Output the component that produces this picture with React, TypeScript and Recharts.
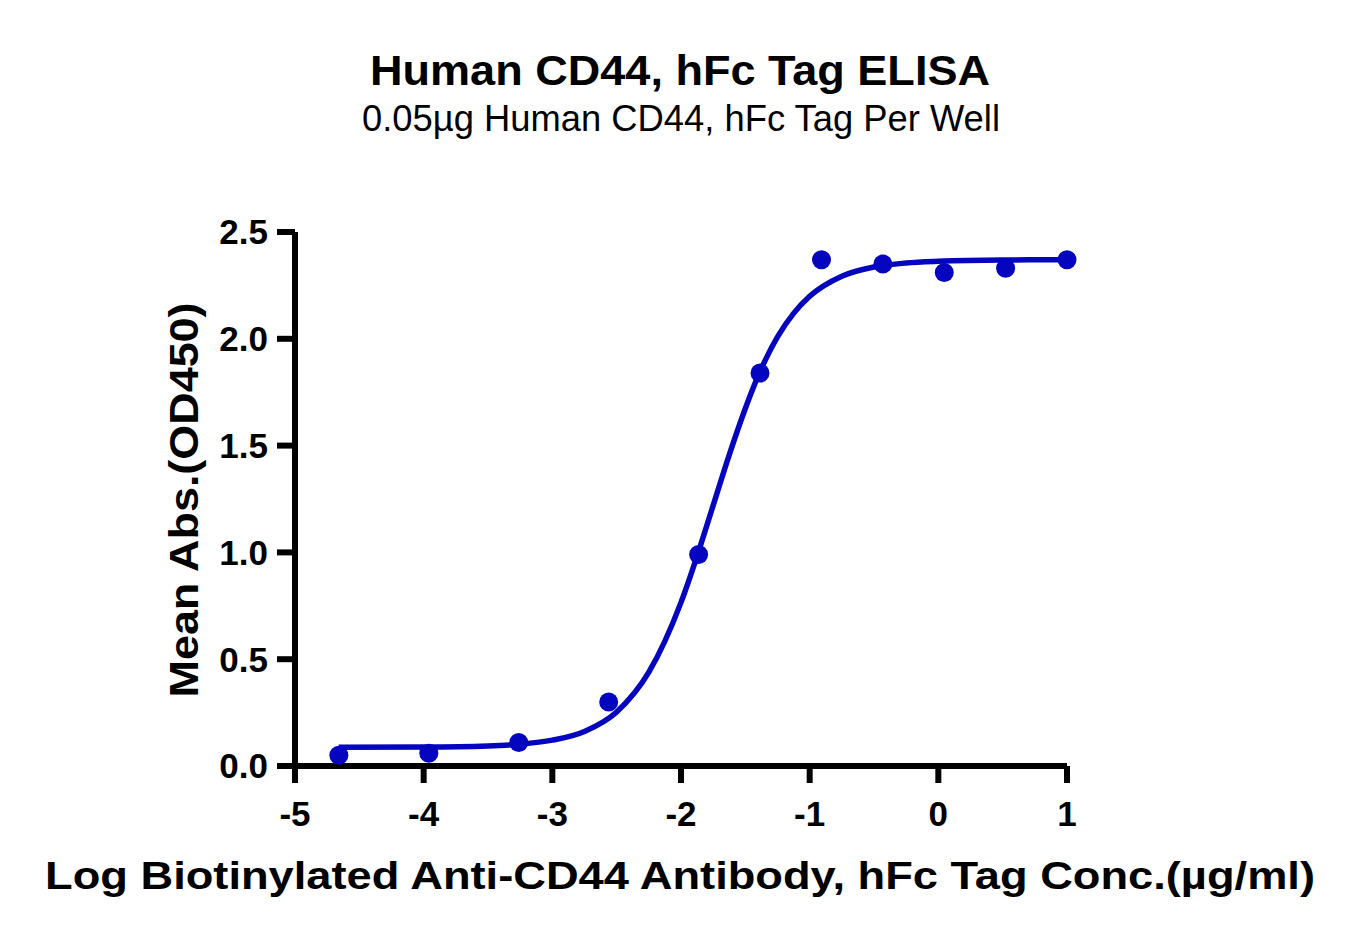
import React from "react";
import { ComposedChart, Line, Scatter, XAxis, YAxis } from "recharts";

// log conc (µg/ml) and mean OD450
const logConc = [-4.659, -3.96, -3.261, -2.562, -1.863, -1.386, -0.908, -0.431, 0.046, 0.523, 1.0];
const meanAbs = [0.05, 0.06, 0.11, 0.3, 0.99, 1.84, 2.37, 2.35, 2.31, 2.33, 2.37];

// fitted curve
const fitX = [-4.66, -4.0, -3.5, -3.25, -3.0, -2.75, -2.5, -2.25, -2.0, -1.875, -1.75, -1.625, -1.5, -1.375, -1.25, -1.125, -1.0, -0.75, -0.5, -0.25, 0, 0.5, 1.0];
const fitY = [0.088, 0.089, 0.094, 0.102, 0.121, 0.162, 0.253, 0.439, 0.766, 0.983, 1.22, 1.457, 1.674, 1.861, 2.009, 2.119, 2.199, 2.293, 2.336, 2.355, 2.363, 2.369, 2.37];

const xTicks = [-5, -4, -3, -2, -1, 0, 1];
const yTicks = [0, 0.5, 1.0, 1.5, 2.0, 2.5];

const BLUE = "#0505C0";
const FONT = "'Liberation Sans', Arial, sans-serif";

const points = logConc.map((x, i) => ({ x, y: meanAbs[i] }));
const curve = fitX.map((x, i) => ({ x, y: fitY[i] }));

const W = 1362;
const H = 943;

const tickStyle = { fontSize: 35, fontWeight: 700, fill: "#000", fontFamily: FONT };

export default function App() {
  return (
    <div style={{ position: "relative", width: W, height: H, background: "#fff" }}>
      <style>{`body{margin:0;}`}</style>
      <ComposedChart
        width={W}
        height={H}
        margin={{ top: 232, right: 295, bottom: 117, left: 195 }}
      >
        <XAxis
          type="number"
          dataKey="x"
          domain={[-5, 1]}
          ticks={xTicks}
          height={60}
          axisLine={{ stroke: "#000", strokeWidth: 6 }}
          tickLine={{ stroke: "#000", strokeWidth: 6 }}
          tickSize={17}
          tickMargin={18}
          tick={tickStyle}
        />
        <YAxis
          type="number"
          dataKey="y"
          domain={[0, 2.5]}
          ticks={yTicks}
          width={100}
          tickFormatter={(v: number) => v.toFixed(1)}
          axisLine={{ stroke: "#000", strokeWidth: 6 }}
          tickLine={{ stroke: "#000", strokeWidth: 6 }}
          tickSize={18}
          tickMargin={9}
          tick={tickStyle}
        />
        <Line
          data={curve}
          dataKey="y"
          type="monotone"
          stroke={BLUE}
          strokeWidth={5.5}
          dot={false}
          activeDot={false}
          isAnimationActive={false}
        />
        <Scatter
          data={points}
          dataKey="y"
          fill={BLUE}
          isAnimationActive={false}
          shape={(p: any) => <circle cx={p.cx} cy={p.cy} r={9.5} fill={BLUE} />}
        />
      </ComposedChart>
      <svg
        width={W}
        height={H}
        style={{ position: "absolute", left: 0, top: 0, pointerEvents: "none" }}
      >
        <text x={680} y={85} textAnchor="middle" fontFamily={FONT} fontWeight={700} fontSize={42}
          textLength={620} lengthAdjust="spacingAndGlyphs">
          Human CD44, hFc Tag ELISA
        </text>
        <text x={681} y={131} textAnchor="middle" fontFamily={FONT} fontSize={37}
          textLength={638} lengthAdjust="spacingAndGlyphs">
          0.05µg Human CD44, hFc Tag Per Well
        </text>
        <text x={680} y={889} textAnchor="middle" fontFamily={FONT} fontWeight={700} fontSize={39}
          textLength={1270} lengthAdjust="spacingAndGlyphs">
          Log Biotinylated Anti-CD44 Antibody, hFc Tag Conc.(µg/ml)
        </text>
        <text x={0} y={0} transform="translate(198,500) rotate(-90)" textAnchor="middle"
          fontFamily={FONT} fontWeight={700} fontSize={41} textLength={395} lengthAdjust="spacingAndGlyphs">
          Mean Abs.(OD450)
        </text>
      </svg>
    </div>
  );
}
